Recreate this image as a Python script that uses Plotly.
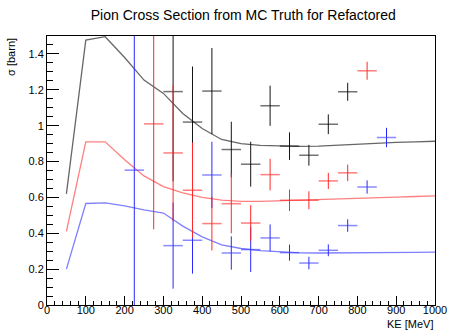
import plotly.graph_objects as go

# Measured cross sections per 50 MeV kinetic-energy bin (bin centres, values, errors)
ke_total = [325, 375, 425, 475, 525, 575, 625, 675, 725, 775]
xs_total = [1.19, 1.02, 1.193, 0.867, 0.785, 1.111, 0.886, 0.835, 1.008, 1.189]
err_total = [0.50, 0.31, 0.24, 0.155, 0.125, 0.112, 0.077, 0.058, 0.055, 0.05]

ke_abs = [275, 325, 375, 425, 475, 525, 575, 625, 675, 725, 775, 825]
xs_abs = [1.010, 0.848, 0.64, 0.454, 0.565, 0.457, 0.727, 0.584, 0.584, 0.692, 0.737, 1.306]
err_abs = [0.588, 0.38, 0.265, 0.15, 0.165, 0.10, 0.088, 0.06, 0.05, 0.045, 0.046, 0.05]

ke_cex = [225, 325, 375, 425, 475, 525, 575, 625, 675, 725, 775, 825, 875]
xs_cex = [0.752, 0.331, 0.361, 0.725, 0.290, 0.309, 0.374, 0.292, 0.234, 0.305, 0.443, 0.658, 0.934]
err_cex = [0.80, 0.24, 0.186, 0.185, 0.093, 0.125, 0.075, 0.045, 0.035, 0.033, 0.035, 0.037, 0.054]

bin_half_width = 25

# MC truth predictions
ke_curve = [50, 100, 150, 200, 250, 300, 350, 400, 450, 500, 550, 600,
            650, 700, 750, 800, 850, 900, 950, 1000]
truth_total = [0.62, 1.477, 1.496, 1.38, 1.254, 1.18, 1.068, 0.984, 0.923, 0.90, 0.89,
               0.885, 0.884, 0.886, 0.892, 0.897, 0.903, 0.907, 0.910, 0.913]
truth_abs = [0.41, 0.91, 0.91, 0.81, 0.72, 0.66, 0.625, 0.60, 0.585, 0.578, 0.578,
             0.582, 0.585, 0.589, 0.592, 0.596, 0.599, 0.602, 0.605, 0.608]
truth_cex = [0.20, 0.566, 0.569, 0.553, 0.530, 0.513, 0.44, 0.38, 0.335, 0.315, 0.303,
             0.296, 0.291, 0.29, 0.29, 0.291, 0.292, 0.293, 0.294, 0.295]

fig = go.Figure()

for y, col in [(truth_total, "rgba(0,0,0,0.6)"),
               (truth_abs, "rgba(255,0,0,0.5)"),
               (truth_cex, "rgba(0,0,255,0.5)")]:
    fig.add_trace(go.Scatter(x=ke_curve, y=y, mode="lines",
                             line=dict(color=col, width=1.3), showlegend=False,
                             hoverinfo="skip"))


def points(x, y, err, col, bar_col):
    return go.Scatter(
        x=x, y=y, mode="markers", marker=dict(size=1, color=col, opacity=0),
        error_y=dict(type="data", array=err, color=col, thickness=1, width=0),
        error_x=dict(type="constant", value=bin_half_width, color=bar_col,
                     thickness=1.5, width=0),
        showlegend=False)


fig.add_trace(points(ke_cex, xs_cex, err_cex, "rgb(40,40,255)", "rgba(60,60,255,0.6)"))
fig.add_trace(points(ke_total, xs_total, err_total, "rgb(20,20,20)", "rgba(0,0,0,0.55)"))
fig.add_trace(points(ke_abs, xs_abs, err_abs, "rgb(255,40,40)", "rgba(255,40,40,0.6)"))

font = "Liberation Sans, Arial, Helvetica, sans-serif"

fig.update_layout(
    width=459, height=331,
    margin=dict(l=47, r=13, t=36, b=26),
    paper_bgcolor="white", plot_bgcolor="white",
    font=dict(family=font, size=11, color="black"),
    title=dict(text="Pion Cross Section from MC Truth for Refactored",
               x=0.53, xanchor="center", y=0.955, yanchor="middle",
               font=dict(size=14, family=font, color="black")),
    xaxis=dict(range=[0, 1000], dtick=100, ticks="inside", ticklen=9,
               tickcolor="black", showgrid=False, zeroline=False,
               showline=True, mirror=True, linecolor="black", linewidth=1,
               minor=dict(dtick=20, ticks="inside", ticklen=4, tickcolor="black"),
               tickfont=dict(size=11), ticklabelstandoff=-5),
    yaxis=dict(range=[0, 1.5], tickvals=[0, 0.2, 0.4, 0.6, 0.8, 1, 1.2, 1.4],
               ticktext=["0", "0.2", "0.4", "0.6", "0.8", "1", "1.2", "1.4"],
               ticks="inside", ticklen=12, tickcolor="black", showgrid=False,
               zeroline=False, showline=True, mirror=True, linecolor="black",
               linewidth=1,
               minor=dict(dtick=0.05, ticks="inside", ticklen=6, tickcolor="black"),
               tickfont=dict(size=11)),
    annotations=[
        dict(text="KE [MeV]", xref="paper", yref="paper", x=1, y=-0.04,
             xanchor="right", yanchor="top", showarrow=False,
             font=dict(size=11)),
        dict(text="σ [barn]", xref="paper", yref="paper", x=-0.093, y=1,
             xanchor="center", yanchor="top", textangle=-90, showarrow=False,
             font=dict(size=11)),
    ],
)

fig.write_html("out.html")
